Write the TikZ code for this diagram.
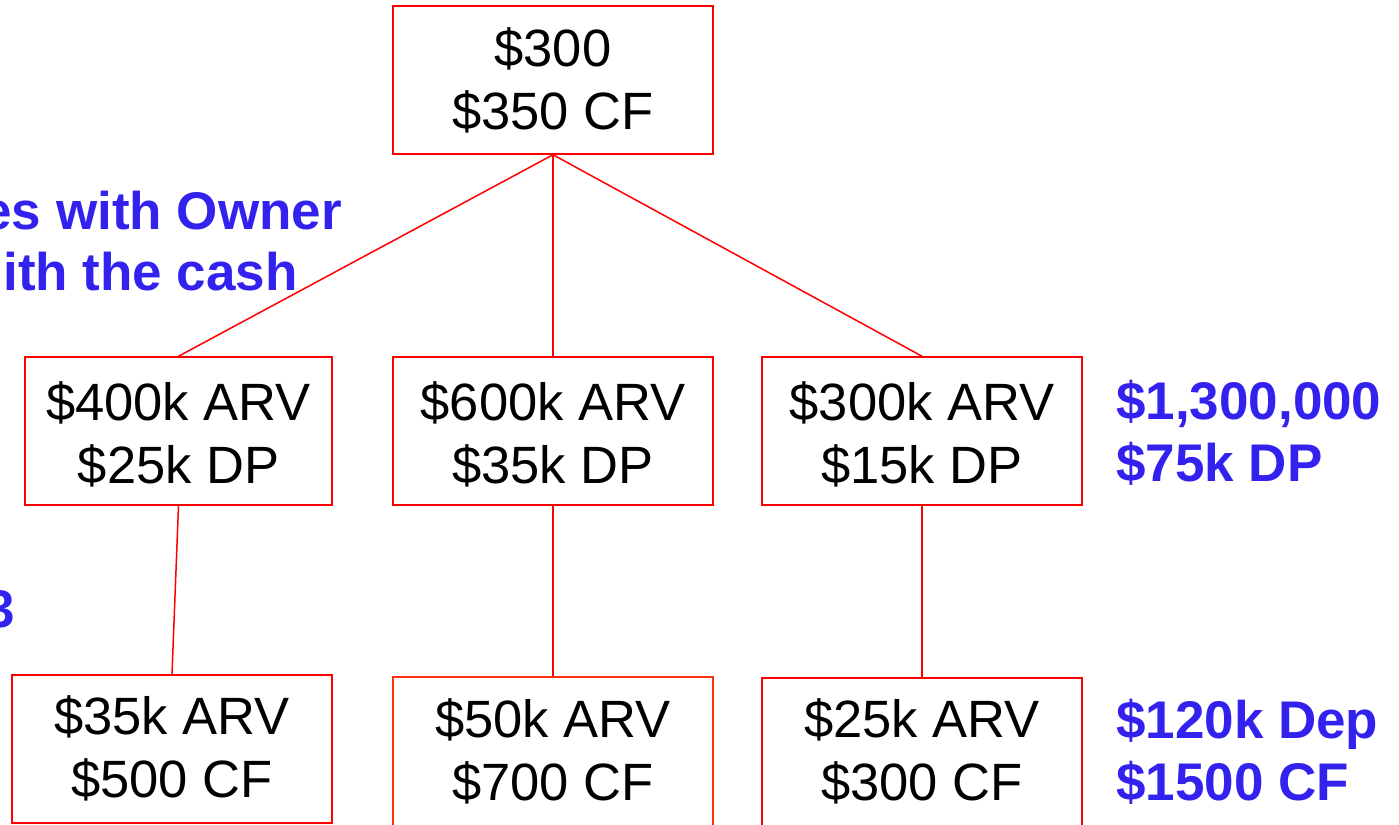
\documentclass[tikz,border=0pt]{standalone}
\usepackage{fontspec}
\setmainfont{Liberation Sans}
\definecolor{boxred}{RGB}{255,0,0}
\definecolor{boxorange}{RGB}{255,48,16}
\definecolor{noteblue}{RGB}{51,34,238}
\tikzset{
  box/.style={draw=boxred, line width=1.5pt, rectangle, inner sep=0pt, minimum width=320pt, minimum height=148pt},
  txt/.style={inner sep=0pt, align=center, font=\fontsize{52.5}{63}\selectfont, text=black},
  note/.style={inner sep=0pt, align=left, font=\fontsize{53}{62}\selectfont\bfseries, text=noteblue},
  link/.style={draw=boxred, line width=1.5pt}
}
\begin{document}
\begin{tikzpicture}[x=1pt,y=-1pt]
\useasboundingbox (0,0) rectangle (1399,824);
\clip (0,0) rectangle (1399,824);
% boxes
\node[box] (top) at (553,80) {};
\node[box, minimum width=307pt] (m1) at (178.5,431) {};
\node[box] (m2) at (553,431) {};
\node[box] (m3) at (922,431) {};
\node[box] (b1) at (172,749) {};
\node[box, draw=boxorange, minimum height=149pt] (b2) at (553,751.5) {};
\node[box] (b3) at (922,752) {};
% texts in boxes
\node[txt] (ttop) at (553,80.5) {\$300\\\$350 CF};
\node[txt] (tm1) at (178.5,434.5) {\$400k ARV\\\$25k DP};
\node[txt] (tm2) at (553,434.5) {\$600k ARV\\\$35k DP};
\node[txt] (tm3) at (922,434.5) {\$300k ARV\\\$15k DP};
\node[txt] (tb1) at (172,748.5) {\$35k ARV\\\$500 CF};
\node[txt] (tb2) at (553,751.5) {\$50k ARV\\\$700 CF};
\node[txt] (tb3) at (922,751.5) {\$25k ARV\\\$300 CF};
% connectors
\draw[link] (top.south) -- (m1.north);
\draw[link] (top.south) -- (m2.north);
\draw[link] (top.south) -- (m3.north);
\draw[link] (m1.south) -- (b1.north);
\draw[link] (m2.south) -- (b2.north);
\draw[link] (m3.south) -- (b3.north);
% blue notes
\node[note, anchor=west] (n1) at (1116,433) {\$1,300,000\\\$75k DP};
\node[note, anchor=west] (n2) at (1116,751.3) {\$120k Dep\\\$1500 CF};
\node[note, anchor=base east] (l1) at (342,229) {es with Owner};
\node[note, anchor=base east] (l2) at (298,290) {ith the cash};
\node[note, anchor=base east] (l3) at (15,627) {3};
\end{tikzpicture}
\end{document}
